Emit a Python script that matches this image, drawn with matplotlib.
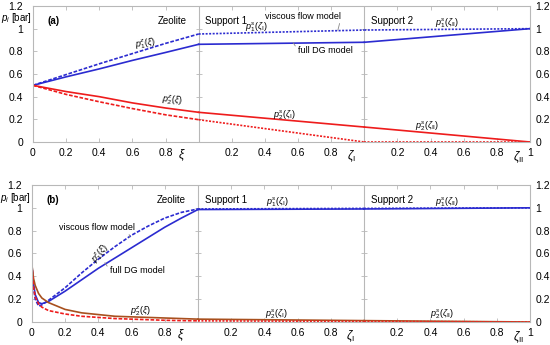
import numpy as np
import matplotlib.pyplot as plt

plt.rcParams['font.family'] = ['Liberation Sans', 'DejaVu Sans']
plt.rcParams['mathtext.fontset'] = 'custom'
plt.rcParams['mathtext.rm'] = 'Liberation Sans'
plt.rcParams['mathtext.it'] = 'Liberation Sans:italic'

BLUE = '#2b2bd0'
RED = '#ee1c1c'
BROWN = '#a8501e'
GRID = '#b8b8b8'

# ---- panel (a) data ----
xi_a = [0, 0.2, 0.4, 0.6, 0.8, 1.0]
a_p1_dg = [0.5, 0.575, 0.645, 0.72, 0.79, 0.862]
a_p1_vf = [0.5, 0.595, 0.69, 0.78, 0.87, 0.953]
a_p2_dg = [0.5, 0.445, 0.40, 0.345, 0.30, 0.262]
a_p2_vf = [0.5, 0.42, 0.355, 0.295, 0.24, 0.197]
zeta = [0, 1]
a_s1_p1_dg = [0.862, 0.88]
a_s1_p1_vf = [0.953, 0.988]
a_s1_p2_dg = [0.262, 0.132]
a_s1_p2_vf = [0.197, 0.0]
a_s2_p1_dg = [0.88, 1.0]
a_s2_p1_vf = [0.988, 1.0]
a_s2_p2_dg = [0.132, 0.0]
a_s2_p2_vf = [0.0, 0.0]

# ---- panel (b) data ----
xi_b = [0, 0.01, 0.02, 0.04, 0.06, 0.1, 0.2, 0.3, 0.4, 0.5, 0.6, 0.7, 0.8, 0.9, 1.0]
b_p1_dg = [0.5, 0.33, 0.24, 0.17, 0.16, 0.18, 0.27, 0.37, 0.47, 0.56, 0.65, 0.74, 0.83, 0.91, 0.985]
b_p1_vf = [0.5, 0.30, 0.20, 0.14, 0.15, 0.19, 0.30, 0.43, 0.55, 0.66, 0.76, 0.84, 0.91, 0.96, 0.99]
b_p2_dg = [0.5, 0.38, 0.32, 0.25, 0.21, 0.17, 0.11, 0.08, 0.065, 0.05, 0.045, 0.04, 0.035, 0.03, 0.025]
b_p2_vf = [0.5, 0.30, 0.22, 0.16, 0.13, 0.10, 0.07, 0.05, 0.04, 0.03, 0.025, 0.02, 0.015, 0.012, 0.01]
b_s1_p1_dg = [0.985, 0.99]
b_s1_p1_vf = [0.99, 0.995]
b_s1_p2_dg = [0.025, 0.012]
b_s1_p2_vf = [0.01, 0.005]
b_s2_p1_dg = [0.99, 1.0]
b_s2_p1_vf = [0.995, 1.0]
b_s2_p2_dg = [0.012, 0.0]
b_s2_p2_vf = [0.005, 0.0]

yticks = [0, 0.2, 0.4, 0.6, 0.8, 1, 1.2]
ytick_labels = ['0', '0.2', '0.4', '0.6', '0.8', '1', '1.2']
sec_ticks = [0.2, 0.4, 0.6, 0.8]

fig = plt.figure(figsize=(5.5, 3.45), dpi=100)
ax_a = fig.add_axes([0.06, 0.5884, 0.9036, 0.3942])
ax_b = fig.add_axes([0.058, 0.0667, 0.9056, 0.3971])

DASH = (0, (2.2, 1.0))
DOT = (0, (1.2, 0.9))
TXT = 7
LAB = 6.5


def setup(ax, tag):
    ax.set_xlim(0, 3)
    ax.set_ylim(0, 1.2)
    for s in ax.spines.values():
        s.set_color(GRID)
        s.set_linewidth(0.8)
    ax.axvline(1, color=GRID, lw=0.8, zorder=0)
    ax.axvline(2, color=GRID, lw=0.8, zorder=0)
    # small ticks on section borders
    for xb in (1, 2):
        ax.plot([xb] * 5, [0.2, 0.4, 0.6, 0.8, 1.0], ls='none', marker='_',
                ms=4, mew=0.6, color=GRID, zorder=0)
    xt = [0] + sec_ticks + [1 + t for t in sec_ticks] + [2 + t for t in sec_ticks] + [3]
    xl = ['0'] + ['%.1f' % t for t in sec_ticks] * 3 + ['1']
    ax.set_xticks(xt)
    ax.set_xticklabels(xl)
    ax.set_yticks(yticks)
    ax.set_yticklabels(ytick_labels)
    ax.tick_params(direction='in', length=3, width=0.6, color=GRID, labelsize=7.5,
                   top=True, right=True)
    ax.tick_params(axis='y', pad=7)
    ax.tick_params(axis='x', pad=4)

    # right-hand labels, closer to the frame
    axr = ax.twinx()
    axr.set_ylim(0, 1.2)
    axr.set_yticks(yticks)
    axr.set_yticklabels(ytick_labels)
    axr.tick_params(direction='in', length=0, labelsize=7.5, pad=4)
    for s in axr.spines.values():
        s.set_visible(False)

    ax.text(-0.004, 1.09, r'$p_i$ [bar]', fontsize=TXT, ha='right', va='center',
            clip_on=False)
    ax.text(0.9, -0.115, r'$\xi$', fontsize=8.5, ha='center', va='center', clip_on=False)
    ax.text(1.92, -0.125, r'$\zeta_\mathrm{I}$', fontsize=8.5, ha='center', va='center', clip_on=False)
    ax.text(2.93, -0.13, r'$\zeta_\mathrm{II}$', fontsize=8.5, ha='center', va='center', clip_on=False)
    ax.text(0.09, 1.07, tag, fontsize=TXT, fontweight='bold', ha='left', va='center')
    ax.text(0.84, 1.07, 'Zeolite', fontsize=TXT, ha='center', va='center')
    ax.text(1.04, 1.07, 'Support 1', fontsize=TXT, ha='left', va='center')
    ax.text(2.04, 1.07, 'Support 2', fontsize=TXT, ha='left', va='center')


def draw(ax, xi, z, s1, s2, col_p2):
    p1_dg, p1_vf, p2_dg, p2_vf = z
    x0 = np.array(xi)
    ax.plot(x0, p1_dg, color=BLUE, lw=1.2)
    ax.plot(x0, p1_vf, color=BLUE, lw=1.2, ls=DASH)
    ax.plot(x0, p2_dg, color=col_p2, lw=1.2)
    ax.plot(x0, p2_vf, color=RED, lw=1.2, ls=DASH)
    for off, seg in ((1, s1), (2, s2)):
        zz = np.array(zeta) + off
        ax.plot(zz, seg[0], color=BLUE, lw=1.2)
        ax.plot(zz, seg[1], color=BLUE, lw=1.2, ls=DOT)
        ax.plot(zz, seg[2], color=col_p2, lw=1.2)
        ax.plot(zz, seg[3], color=RED, lw=1.2, ls=DOT)


# ---- panel (a) ----
setup(ax_a, '(a)')
draw(ax_a, xi_a, (a_p1_dg, a_p1_vf, a_p2_dg, a_p2_vf),
     (a_s1_p1_dg, a_s1_p1_vf, a_s1_p2_dg, a_s1_p2_vf),
     (a_s2_p1_dg, a_s2_p1_vf, a_s2_p2_dg, a_s2_p2_vf), RED)
ax_a.text(0.68, 0.87, r'$p_1^z(\xi)$', fontsize=LAB, rotation=8, ha='center', va='center')
ax_a.text(0.84, 0.37, r'$p_2^z(\xi)$', fontsize=LAB, rotation=-6, ha='center', va='center')
ax_a.text(1.35, 1.015, r'$p_1^s(\zeta_\mathrm{I})$', fontsize=LAB, ha='center', va='center')
ax_a.text(1.52, 0.24, r'$p_2^s(\zeta_\mathrm{I})$', fontsize=LAB, ha='center', va='center')
ax_a.text(2.50, 1.05, r'$p_1^s(\zeta_\mathrm{II})$', fontsize=LAB, ha='center', va='center')
ax_a.text(2.38, 0.14, r'$p_2^s(\zeta_\mathrm{II})$', fontsize=LAB, ha='center', va='center')
ax_a.annotate('viscous flow model', xy=(1.84, 0.985), xytext=(1.63, 1.11), fontsize=LAB,
              ha='center', va='center',
              arrowprops=dict(arrowstyle='-', color='#888888', lw=0.6,
                              shrinkA=0, shrinkB=0, relpos=(1, 0.3)))
ax_a.annotate('full DG model', xy=(1.57, 0.877), xytext=(1.60, 0.81), fontsize=LAB,
              ha='left', va='center',
              arrowprops=dict(arrowstyle='-', color='#888888', lw=0.6,
                              shrinkA=0, shrinkB=0, relpos=(0, 0.5)))

# ---- panel (b) ----
setup(ax_b, '(b)')
draw(ax_b, xi_b, (b_p1_dg, b_p1_vf, b_p2_dg, b_p2_vf),
     (b_s1_p1_dg, b_s1_p1_vf, b_s1_p2_dg, b_s1_p2_vf),
     (b_s2_p1_dg, b_s2_p1_vf, b_s2_p2_dg, b_s2_p2_vf), BROWN)
ax_b.text(0.41, 0.60, r'$p_1^z(\xi)$', fontsize=LAB, rotation=50, ha='center', va='center')
ax_b.text(0.65, 0.09, r'$p_2^z(\xi)$', fontsize=LAB, ha='center', va='center')
ax_b.text(1.48, 1.05, r'$p_1^s(\zeta_\mathrm{I})$', fontsize=LAB, ha='center', va='center')
ax_b.text(1.47, 0.07, r'$p_2^s(\zeta_\mathrm{I})$', fontsize=LAB, ha='center', va='center')
ax_b.text(2.50, 1.05, r'$p_1^s(\zeta_\mathrm{II})$', fontsize=LAB, ha='center', va='center')
ax_b.text(2.47, 0.07, r'$p_2^s(\zeta_\mathrm{II})$', fontsize=LAB, ha='center', va='center')
ax_b.annotate('viscous flow model', xy=(0.59, 0.74), xytext=(0.39, 0.83), fontsize=LAB,
              ha='center', va='center',
              arrowprops=dict(arrowstyle='-', color='#888888', lw=0.6,
                              shrinkA=0, shrinkB=0, relpos=(0.92, 0)))
ax_b.annotate('full DG model', xy=(0.44, 0.52), xytext=(0.47, 0.45), fontsize=LAB,
              ha='left', va='center',
              arrowprops=dict(arrowstyle='-', color='#888888', lw=0.6,
                              shrinkA=0, shrinkB=0, relpos=(0, 0.5)))

fig.savefig('out.png', dpi=100)
